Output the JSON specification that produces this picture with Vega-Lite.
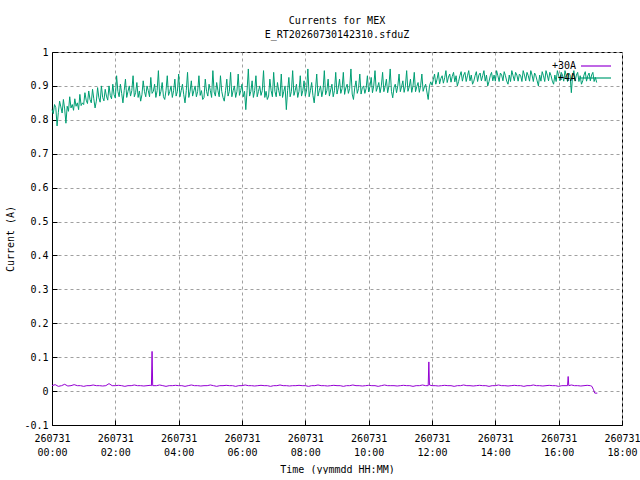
{
  "$schema": "https://vega.github.io/schema/vega-lite/v6.json",
  "width": 570,
  "height": 373,
  "padding": {"left": 5, "top": 16, "right": 0, "bottom": 0},
  "background": "white",
  "title": {
    "text": "Currents for MEX",
    "subtitle": "E_RT20260730142310.sfduZ",
    "anchor": "middle",
    "font": "DejaVu Sans Mono",
    "fontSize": 10,
    "fontWeight": "normal",
    "color": "black",
    "subtitleFont": "DejaVu Sans Mono",
    "subtitleFontSize": 10,
    "subtitleColor": "black",
    "subtitlePadding": 4,
    "offset": 7
  },
  "config": {
    "font": "DejaVu Sans Mono",
    "view": {"stroke": "black", "strokeWidth": 1},
    "axis": {
      "labelFont": "DejaVu Sans Mono",
      "labelFontSize": 10,
      "labelColor": "black",
      "titleFont": "DejaVu Sans Mono",
      "titleFontSize": 10,
      "titleFontWeight": "normal",
      "titleColor": "black",
      "domainColor": "black",
      "tickColor": "black",
      "tickSize": -5,
      "gridColor": "#a0a0a0",
      "gridDash": [3, 3],
      "gridWidth": 1,
      "gridOpacity": 1
    },
    "legend": {
      "labelFont": "DejaVu Sans Mono",
      "labelFontSize": 10,
      "labelColor": "black"
    }
  },
  "datasets": {
    "i30": [
      {"t":0.0,"v":0.016},{"t":0.1,"v":0.019},{"t":0.2,"v":0.014},{"t":0.3,"v":0.016},{"t":0.4,"v":0.02},
      {"t":0.5,"v":0.015},{"t":0.6,"v":0.016},{"t":0.7,"v":0.019},{"t":0.8,"v":0.016},{"t":0.9,"v":0.016},
      {"t":1.0,"v":0.014},{"t":1.1,"v":0.016},{"t":1.2,"v":0.016},{"t":1.3,"v":0.018},{"t":1.4,"v":0.016},
      {"t":1.5,"v":0.016},{"t":1.6,"v":0.015},{"t":1.7,"v":0.016},{"t":1.8,"v":0.022},{"t":1.9,"v":0.016},
      {"t":2.0,"v":0.016},{"t":2.1,"v":0.017},{"t":2.2,"v":0.016},{"t":2.3,"v":0.014},{"t":2.4,"v":0.016},
      {"t":2.5,"v":0.016},{"t":2.6,"v":0.018},{"t":2.7,"v":0.016},{"t":2.8,"v":0.016},{"t":2.9,"v":0.015},
      {"t":3.0,"v":0.016},{"t":3.1,"v":0.017},{"t":3.14,"v":0.016},{"t":3.16,"v":0.117},{"t":3.18,"v":0.016},
      {"t":3.3,"v":0.016},{"t":3.4,"v":0.018},{"t":3.5,"v":0.016},{"t":3.6,"v":0.014},{"t":3.7,"v":0.016},
      {"t":3.8,"v":0.016},{"t":3.9,"v":0.017},{"t":4.0,"v":0.016},{"t":4.1,"v":0.016},{"t":4.2,"v":0.014},
      {"t":4.3,"v":0.016},{"t":4.4,"v":0.018},{"t":4.5,"v":0.016},{"t":4.6,"v":0.016},{"t":4.7,"v":0.015},
      {"t":4.8,"v":0.016},{"t":4.9,"v":0.016},{"t":5.0,"v":0.018},{"t":5.1,"v":0.016},{"t":5.2,"v":0.014},
      {"t":5.3,"v":0.016},{"t":5.4,"v":0.016},{"t":5.5,"v":0.017},{"t":5.6,"v":0.016},{"t":5.7,"v":0.016},
      {"t":5.8,"v":0.014},{"t":5.9,"v":0.016},{"t":6.0,"v":0.016},{"t":6.1,"v":0.018},{"t":6.2,"v":0.016},
      {"t":6.3,"v":0.016},{"t":6.4,"v":0.015},{"t":6.5,"v":0.016},{"t":6.6,"v":0.017},{"t":6.7,"v":0.016},
      {"t":6.8,"v":0.016},{"t":6.9,"v":0.014},{"t":7.0,"v":0.016},{"t":7.1,"v":0.016},{"t":7.2,"v":0.018},
      {"t":7.3,"v":0.016},{"t":7.4,"v":0.016},{"t":7.5,"v":0.015},{"t":7.6,"v":0.016},{"t":7.7,"v":0.016},
      {"t":7.8,"v":0.017},{"t":7.9,"v":0.016},{"t":8.0,"v":0.016},{"t":8.1,"v":0.014},{"t":8.2,"v":0.016},
      {"t":8.3,"v":0.016},{"t":8.4,"v":0.018},{"t":8.5,"v":0.016},{"t":8.6,"v":0.016},{"t":8.7,"v":0.015},
      {"t":8.8,"v":0.016},{"t":8.9,"v":0.017},{"t":9.0,"v":0.016},{"t":9.1,"v":0.016},{"t":9.2,"v":0.014},
      {"t":9.3,"v":0.016},{"t":9.4,"v":0.016},{"t":9.5,"v":0.018},{"t":9.6,"v":0.016},{"t":9.7,"v":0.016},
      {"t":9.8,"v":0.015},{"t":9.9,"v":0.016},{"t":10.0,"v":0.017},{"t":10.1,"v":0.016},{"t":10.2,"v":0.016},
      {"t":10.3,"v":0.014},{"t":10.4,"v":0.016},{"t":10.5,"v":0.018},{"t":10.6,"v":0.016},{"t":10.7,"v":0.016},
      {"t":10.8,"v":0.016},{"t":10.9,"v":0.015},{"t":11.0,"v":0.016},{"t":11.1,"v":0.017},{"t":11.2,"v":0.016},
      {"t":11.3,"v":0.016},{"t":11.4,"v":0.014},{"t":11.5,"v":0.016},{"t":11.6,"v":0.016},{"t":11.7,"v":0.018},
      {"t":11.8,"v":0.016},{"t":11.88,"v":0.016},{"t":11.9,"v":0.086},{"t":11.92,"v":0.018},{"t":12.0,"v":0.016},
      {"t":12.1,"v":0.016},{"t":12.2,"v":0.015},{"t":12.3,"v":0.016},{"t":12.4,"v":0.017},{"t":12.5,"v":0.016},
      {"t":12.6,"v":0.016},{"t":12.7,"v":0.014},{"t":12.8,"v":0.016},{"t":12.9,"v":0.016},{"t":13.0,"v":0.018},
      {"t":13.1,"v":0.016},{"t":13.2,"v":0.016},{"t":13.3,"v":0.015},{"t":13.4,"v":0.016},{"t":13.5,"v":0.017},
      {"t":13.6,"v":0.016},{"t":13.7,"v":0.016},{"t":13.8,"v":0.014},{"t":13.9,"v":0.016},{"t":14.0,"v":0.016},
      {"t":14.1,"v":0.018},{"t":14.2,"v":0.016},{"t":14.3,"v":0.016},{"t":14.4,"v":0.015},{"t":14.5,"v":0.016},
      {"t":14.6,"v":0.017},{"t":14.7,"v":0.016},{"t":14.8,"v":0.016},{"t":14.9,"v":0.014},{"t":15.0,"v":0.016},
      {"t":15.1,"v":0.016},{"t":15.2,"v":0.018},{"t":15.3,"v":0.016},{"t":15.4,"v":0.016},{"t":15.5,"v":0.015},
      {"t":15.6,"v":0.016},{"t":15.7,"v":0.017},{"t":15.8,"v":0.016},{"t":15.9,"v":0.016},{"t":16.0,"v":0.014},
      {"t":16.1,"v":0.016},{"t":16.2,"v":0.016},{"t":16.28,"v":0.016},{"t":16.3,"v":0.043},{"t":16.32,"v":0.016},
      {"t":16.4,"v":0.018},{"t":16.5,"v":0.016},{"t":16.6,"v":0.016},{"t":16.7,"v":0.015},{"t":16.8,"v":0.016},
      {"t":16.9,"v":0.017},{"t":17.0,"v":0.016},{"t":17.05,"v":0.014},{"t":17.1,"v":0.004},{"t":17.14,"v":-0.006},
      {"t":17.22,"v":-0.006}
    ],
    "i4": [
      {"t":0.00,"v":0.83},{"t":0.04,"v":0.818},{"t":0.08,"v":0.845},{"t":0.12,"v":0.836},{"t":0.16,"v":0.782},
      {"t":0.20,"v":0.822},{"t":0.24,"v":0.855},{"t":0.28,"v":0.838},{"t":0.32,"v":0.82},{"t":0.36,"v":0.86},
      {"t":0.40,"v":0.832},{"t":0.44,"v":0.79},{"t":0.48,"v":0.84},{"t":0.52,"v":0.825},{"t":0.56,"v":0.868},
      {"t":0.60,"v":0.835},{"t":0.64,"v":0.845},{"t":0.68,"v":0.828},{"t":0.72,"v":0.862},{"t":0.76,"v":0.84},
      {"t":0.80,"v":0.85},{"t":0.84,"v":0.83},{"t":0.88,"v":0.875},{"t":0.92,"v":0.842},{"t":0.96,"v":0.85},
      {"t":1.00,"v":0.845},{"t":1.04,"v":0.88},{"t":1.08,"v":0.858},{"t":1.12,"v":0.848},{"t":1.16,"v":0.885},
      {"t":1.20,"v":0.86},{"t":1.24,"v":0.85},{"t":1.28,"v":0.89},{"t":1.32,"v":0.862},{"t":1.36,"v":0.835},
      {"t":1.40,"v":0.855},{"t":1.44,"v":0.895},{"t":1.48,"v":0.865},{"t":1.52,"v":0.852},{"t":1.56,"v":0.9},
      {"t":1.60,"v":0.866},{"t":1.64,"v":0.856},{"t":1.68,"v":0.89},{"t":1.72,"v":0.87},{"t":1.76,"v":0.858},
      {"t":1.80,"v":0.9},{"t":1.84,"v":0.872},{"t":1.88,"v":0.862},{"t":1.92,"v":0.905},{"t":1.96,"v":0.874},
      {"t":2.00,"v":0.864},{"t":2.04,"v":0.93},{"t":2.08,"v":0.884},{"t":2.12,"v":0.868},{"t":2.16,"v":0.905},
      {"t":2.20,"v":0.878},{"t":2.24,"v":0.85},{"t":2.28,"v":0.886},{"t":2.32,"v":0.92},{"t":2.36,"v":0.866},
      {"t":2.40,"v":0.884},{"t":2.44,"v":0.9},{"t":2.48,"v":0.87},{"t":2.52,"v":0.886},{"t":2.56,"v":0.93},
      {"t":2.60,"v":0.868},{"t":2.64,"v":0.88},{"t":2.68,"v":0.91},{"t":2.72,"v":0.866},{"t":2.76,"v":0.885},
      {"t":2.80,"v":0.855},{"t":2.84,"v":0.874},{"t":2.88,"v":0.915},{"t":2.92,"v":0.884},{"t":2.96,"v":0.868},
      {"t":3.00,"v":0.9},{"t":3.04,"v":0.886},{"t":3.08,"v":0.868},{"t":3.12,"v":0.925},{"t":3.16,"v":0.878},
      {"t":3.20,"v":0.884},{"t":3.24,"v":0.905},{"t":3.28,"v":0.866},{"t":3.32,"v":0.886},{"t":3.36,"v":0.945},
      {"t":3.40,"v":0.87},{"t":3.44,"v":0.884},{"t":3.48,"v":0.91},{"t":3.52,"v":0.868},{"t":3.56,"v":0.86},
      {"t":3.60,"v":0.886},{"t":3.64,"v":0.93},{"t":3.68,"v":0.872},{"t":3.72,"v":0.884},{"t":3.76,"v":0.9},
      {"t":3.80,"v":0.866},{"t":3.84,"v":0.886},{"t":3.88,"v":0.92},{"t":3.92,"v":0.87},{"t":3.96,"v":0.884},
      {"t":4.00,"v":0.935},{"t":4.04,"v":0.868},{"t":4.08,"v":0.886},{"t":4.12,"v":0.905},{"t":4.16,"v":0.874},
      {"t":4.20,"v":0.85},{"t":4.24,"v":0.886},{"t":4.28,"v":0.94},{"t":4.32,"v":0.866},{"t":4.36,"v":0.884},
      {"t":4.40,"v":0.915},{"t":4.44,"v":0.87},{"t":4.48,"v":0.886},{"t":4.52,"v":0.9},{"t":4.56,"v":0.868},
      {"t":4.60,"v":0.884},{"t":4.64,"v":0.93},{"t":4.68,"v":0.872},{"t":4.72,"v":0.886},{"t":4.76,"v":0.86},
      {"t":4.80,"v":0.866},{"t":4.84,"v":0.92},{"t":4.88,"v":0.884},{"t":4.92,"v":0.87},{"t":4.96,"v":0.905},
      {"t":5.00,"v":0.886},{"t":5.04,"v":0.866},{"t":5.08,"v":0.945},{"t":5.12,"v":0.882},{"t":5.16,"v":0.87},
      {"t":5.20,"v":0.91},{"t":5.24,"v":0.886},{"t":5.28,"v":0.868},{"t":5.32,"v":0.93},{"t":5.36,"v":0.884},
      {"t":5.40,"v":0.866},{"t":5.44,"v":0.855},{"t":5.48,"v":0.886},{"t":5.52,"v":0.92},{"t":5.56,"v":0.87},
      {"t":5.60,"v":0.884},{"t":5.64,"v":0.94},{"t":5.68,"v":0.868},{"t":5.72,"v":0.886},{"t":5.76,"v":0.9},
      {"t":5.80,"v":0.866},{"t":5.84,"v":0.884},{"t":5.88,"v":0.935},{"t":5.92,"v":0.872},{"t":5.96,"v":0.886},
      {"t":6.00,"v":0.905},{"t":6.04,"v":0.868},{"t":6.08,"v":0.884},{"t":6.12,"v":0.83},{"t":6.16,"v":0.886},
      {"t":6.20,"v":0.95},{"t":6.24,"v":0.87},{"t":6.28,"v":0.884},{"t":6.32,"v":0.915},{"t":6.36,"v":0.866},
      {"t":6.40,"v":0.886},{"t":6.44,"v":0.93},{"t":6.48,"v":0.868},{"t":6.52,"v":0.884},{"t":6.56,"v":0.9},
      {"t":6.60,"v":0.872},{"t":6.64,"v":0.886},{"t":6.68,"v":0.945},{"t":6.72,"v":0.866},{"t":6.76,"v":0.884},
      {"t":6.80,"v":0.86},{"t":6.84,"v":0.87},{"t":6.88,"v":0.92},{"t":6.92,"v":0.886},{"t":6.96,"v":0.868},
      {"t":7.00,"v":0.94},{"t":7.04,"v":0.884},{"t":7.08,"v":0.868},{"t":7.12,"v":0.91},{"t":7.16,"v":0.886},
      {"t":7.20,"v":0.87},{"t":7.24,"v":0.935},{"t":7.28,"v":0.866},{"t":7.32,"v":0.884},{"t":7.36,"v":0.9},
      {"t":7.40,"v":0.83},{"t":7.44,"v":0.886},{"t":7.48,"v":0.925},{"t":7.52,"v":0.868},{"t":7.56,"v":0.884},
      {"t":7.60,"v":0.945},{"t":7.64,"v":0.872},{"t":7.68,"v":0.886},{"t":7.72,"v":0.905},{"t":7.76,"v":0.866},
      {"t":7.80,"v":0.884},{"t":7.84,"v":0.93},{"t":7.88,"v":0.87},{"t":7.92,"v":0.886},{"t":7.96,"v":0.915},
      {"t":8.00,"v":0.87},{"t":8.04,"v":0.888},{"t":8.08,"v":0.95},{"t":8.12,"v":0.868},{"t":8.16,"v":0.886},
      {"t":8.20,"v":0.91},{"t":8.24,"v":0.872},{"t":8.28,"v":0.85},{"t":8.32,"v":0.888},{"t":8.36,"v":0.935},
      {"t":8.40,"v":0.87},{"t":8.44,"v":0.886},{"t":8.48,"v":0.9},{"t":8.52,"v":0.868},{"t":8.56,"v":0.888},
      {"t":8.60,"v":0.945},{"t":8.64,"v":0.874},{"t":8.68,"v":0.886},{"t":8.72,"v":0.92},{"t":8.76,"v":0.87},
      {"t":8.80,"v":0.888},{"t":8.84,"v":0.905},{"t":8.88,"v":0.868},{"t":8.92,"v":0.886},{"t":8.96,"v":0.94},
      {"t":9.00,"v":0.876},{"t":9.04,"v":0.894},{"t":9.08,"v":0.92},{"t":9.12,"v":0.878},{"t":9.16,"v":0.892},
      {"t":9.20,"v":0.94},{"t":9.24,"v":0.875},{"t":9.28,"v":0.895},{"t":9.32,"v":0.905},{"t":9.36,"v":0.878},
      {"t":9.40,"v":0.893},{"t":9.44,"v":0.95},{"t":9.48,"v":0.876},{"t":9.52,"v":0.86},{"t":9.56,"v":0.894},
      {"t":9.60,"v":0.915},{"t":9.64,"v":0.878},{"t":9.68,"v":0.892},{"t":9.72,"v":0.935},{"t":9.76,"v":0.876},
      {"t":9.80,"v":0.895},{"t":9.84,"v":0.9},{"t":9.88,"v":0.878},{"t":9.92,"v":0.893},{"t":9.96,"v":0.93},
      {"t":10.00,"v":0.882},{"t":10.04,"v":0.898},{"t":10.08,"v":0.925},{"t":10.12,"v":0.88},{"t":10.16,"v":0.9},
      {"t":10.20,"v":0.945},{"t":10.24,"v":0.884},{"t":10.28,"v":0.896},{"t":10.32,"v":0.91},{"t":10.36,"v":0.88},
      {"t":10.40,"v":0.9},{"t":10.44,"v":0.94},{"t":10.48,"v":0.883},{"t":10.52,"v":0.898},{"t":10.56,"v":0.92},
      {"t":10.60,"v":0.88},{"t":10.64,"v":0.9},{"t":10.68,"v":0.95},{"t":10.72,"v":0.884},{"t":10.76,"v":0.865},
      {"t":10.80,"v":0.896},{"t":10.84,"v":0.905},{"t":10.88,"v":0.88},{"t":10.92,"v":0.9},{"t":10.96,"v":0.935},
      {"t":11.00,"v":0.883},{"t":11.04,"v":0.898},{"t":11.08,"v":0.915},{"t":11.12,"v":0.881},{"t":11.16,"v":0.9},
      {"t":11.20,"v":0.945},{"t":11.24,"v":0.884},{"t":11.28,"v":0.897},{"t":11.32,"v":0.92},{"t":11.36,"v":0.881},
      {"t":11.40,"v":0.9},{"t":11.44,"v":0.94},{"t":11.48,"v":0.883},{"t":11.52,"v":0.898},{"t":11.56,"v":0.91},
      {"t":11.60,"v":0.881},{"t":11.64,"v":0.9},{"t":11.68,"v":0.935},{"t":11.72,"v":0.884},{"t":11.76,"v":0.897},
      {"t":11.80,"v":0.905},{"t":11.84,"v":0.882},{"t":11.88,"v":0.86},{"t":11.92,"v":0.9},{"t":11.96,"v":0.912},
      {"t":12.00,"v":0.902},{"t":12.04,"v":0.918},{"t":12.08,"v":0.935},{"t":12.12,"v":0.905},{"t":12.16,"v":0.92},
      {"t":12.20,"v":0.94},{"t":12.24,"v":0.906},{"t":12.28,"v":0.922},{"t":12.32,"v":0.93},{"t":12.36,"v":0.908},
      {"t":12.40,"v":0.924},{"t":12.44,"v":0.945},{"t":12.48,"v":0.91},{"t":12.52,"v":0.926},{"t":12.56,"v":0.935},
      {"t":12.60,"v":0.911},{"t":12.64,"v":0.928},{"t":12.68,"v":0.94},{"t":12.72,"v":0.912},{"t":12.76,"v":0.93},
      {"t":12.80,"v":0.9},{"t":12.84,"v":0.913},{"t":12.88,"v":0.93},{"t":12.92,"v":0.942},{"t":12.96,"v":0.914},
      {"t":13.00,"v":0.932},{"t":13.04,"v":0.94},{"t":13.08,"v":0.913},{"t":13.12,"v":0.93},{"t":13.16,"v":0.945},
      {"t":13.20,"v":0.915},{"t":13.24,"v":0.932},{"t":13.28,"v":0.905},{"t":13.32,"v":0.914},{"t":13.36,"v":0.93},
      {"t":13.40,"v":0.942},{"t":13.44,"v":0.913},{"t":13.48,"v":0.932},{"t":13.52,"v":0.938},{"t":13.56,"v":0.915},
      {"t":13.60,"v":0.93},{"t":13.64,"v":0.945},{"t":13.68,"v":0.914},{"t":13.72,"v":0.932},{"t":13.76,"v":0.9},
      {"t":13.80,"v":0.913},{"t":13.84,"v":0.93},{"t":13.88,"v":0.94},{"t":13.92,"v":0.915},{"t":13.96,"v":0.932},
      {"t":14.00,"v":0.914},{"t":14.04,"v":0.945},{"t":14.08,"v":0.93},{"t":14.12,"v":0.913},{"t":14.16,"v":0.938},
      {"t":14.20,"v":0.932},{"t":14.24,"v":0.915},{"t":14.28,"v":0.942},{"t":14.32,"v":0.93},{"t":14.36,"v":0.914},
      {"t":14.40,"v":0.905},{"t":14.44,"v":0.932},{"t":14.48,"v":0.913},{"t":14.52,"v":0.945},{"t":14.56,"v":0.93},
      {"t":14.60,"v":0.915},{"t":14.64,"v":0.94},{"t":14.68,"v":0.932},{"t":14.72,"v":0.914},{"t":14.76,"v":0.935},
      {"t":14.80,"v":0.93},{"t":14.84,"v":0.913},{"t":14.88,"v":0.945},{"t":14.92,"v":0.932},{"t":14.96,"v":0.915},
      {"t":15.00,"v":0.94},{"t":15.04,"v":0.93},{"t":15.08,"v":0.914},{"t":15.12,"v":0.945},{"t":15.16,"v":0.932},
      {"t":15.20,"v":0.913},{"t":15.24,"v":0.938},{"t":15.28,"v":0.93},{"t":15.32,"v":0.915},{"t":15.36,"v":0.9},
      {"t":15.40,"v":0.932},{"t":15.44,"v":0.914},{"t":15.48,"v":0.942},{"t":15.52,"v":0.93},{"t":15.56,"v":0.913},
      {"t":15.60,"v":0.945},{"t":15.64,"v":0.932},{"t":15.68,"v":0.915},{"t":15.72,"v":0.94},{"t":15.76,"v":0.93},
      {"t":15.80,"v":0.914},{"t":15.84,"v":0.905},{"t":15.88,"v":0.932},{"t":15.92,"v":0.913},{"t":15.96,"v":0.945},
      {"t":16.00,"v":0.93},{"t":16.04,"v":0.915},{"t":16.08,"v":0.94},{"t":16.12,"v":0.932},{"t":16.16,"v":0.914},
      {"t":16.20,"v":0.945},{"t":16.24,"v":0.93},{"t":16.28,"v":0.913},{"t":16.32,"v":0.938},{"t":16.36,"v":0.932},
      {"t":16.40,"v":0.88},{"t":16.44,"v":0.93},{"t":16.48,"v":0.945},{"t":16.52,"v":0.914},{"t":16.56,"v":0.932},
      {"t":16.60,"v":0.94},{"t":16.64,"v":0.913},{"t":16.68,"v":0.93},{"t":16.72,"v":0.905},{"t":16.76,"v":0.915},
      {"t":16.80,"v":0.932},{"t":16.84,"v":0.942},{"t":16.88,"v":0.914},{"t":16.92,"v":0.93},{"t":16.96,"v":0.938},
      {"t":17.00,"v":0.915},{"t":17.04,"v":0.932},{"t":17.08,"v":0.94},{"t":17.12,"v":0.913},{"t":17.16,"v":0.925},
      {"t":17.20,"v":0.91}
    ]
  },
  "encoding": {
    "x": {
      "field": "t",
      "type": "quantitative",
      "title": "Time (yymmdd HH:MM)",
      "scale": {"domain": [0, 18], "nice": false, "zero": false},
      "axis": {
        "values": [0, 2, 4, 6, 8, 10, 12, 14, 16, 18],
        "labelExpr": "['260731', (datum.value < 10 ? '0' : '') + datum.value + ':00']",
        "labelFlush": false,
        "labelOverlap": false,
        "labelPadding": 13,
        "labelLineHeight": 14,
        "titlePadding": 7,
        "grid": true
      }
    },
    "y": {
      "field": "v",
      "type": "quantitative",
      "title": "Current (A)",
      "scale": {"domain": [-0.1, 1], "nice": false, "zero": false},
      "axis": {
        "values": [-0.1, 0, 0.1, 0.2, 0.3, 0.4, 0.5, 0.6, 0.7, 0.8, 0.9, 1],
        "labelExpr": "toString(round(datum.value * 10) / 10)",
        "labelFlush": false,
        "labelPadding": 9,
        "titlePadding": 8,
        "grid": true
      }
    }
  },
  "layer": [
    {
      "data": {"name": "i30"},
      "mark": {"type": "line", "strokeWidth": 1},
      "encoding": {
        "color": {
          "datum": "+30A",
          "type": "nominal",
          "scale": {"domain": ["+30A", "+4A"], "range": ["#9400d3", "#009e73"]},
          "legend": {
            "title": null,
            "orient": "none",
            "legendX": 538,
            "legendY": 8,
            "symbolType": "M-3,0H3",
            "symbolSize": 100,
            "symbolStrokeWidth": 1,
            "labelAlign": "right",
            "labelOffset": -26,
            "rowPadding": 1,
            "encode": {
              "symbols": {
                "update": {
                  "stroke": {"scale": "color", "field": "value"},
                  "strokeWidth": {"value": 1.2},
                  "opacity": {"value": 1}
                }
              }
            }
          }
        }
      }
    },
    {
      "data": {"name": "i4"},
      "mark": {"type": "line", "strokeWidth": 1},
      "encoding": {
        "color": {"datum": "+4A", "type": "nominal"}
      }
    }
  ]
}
